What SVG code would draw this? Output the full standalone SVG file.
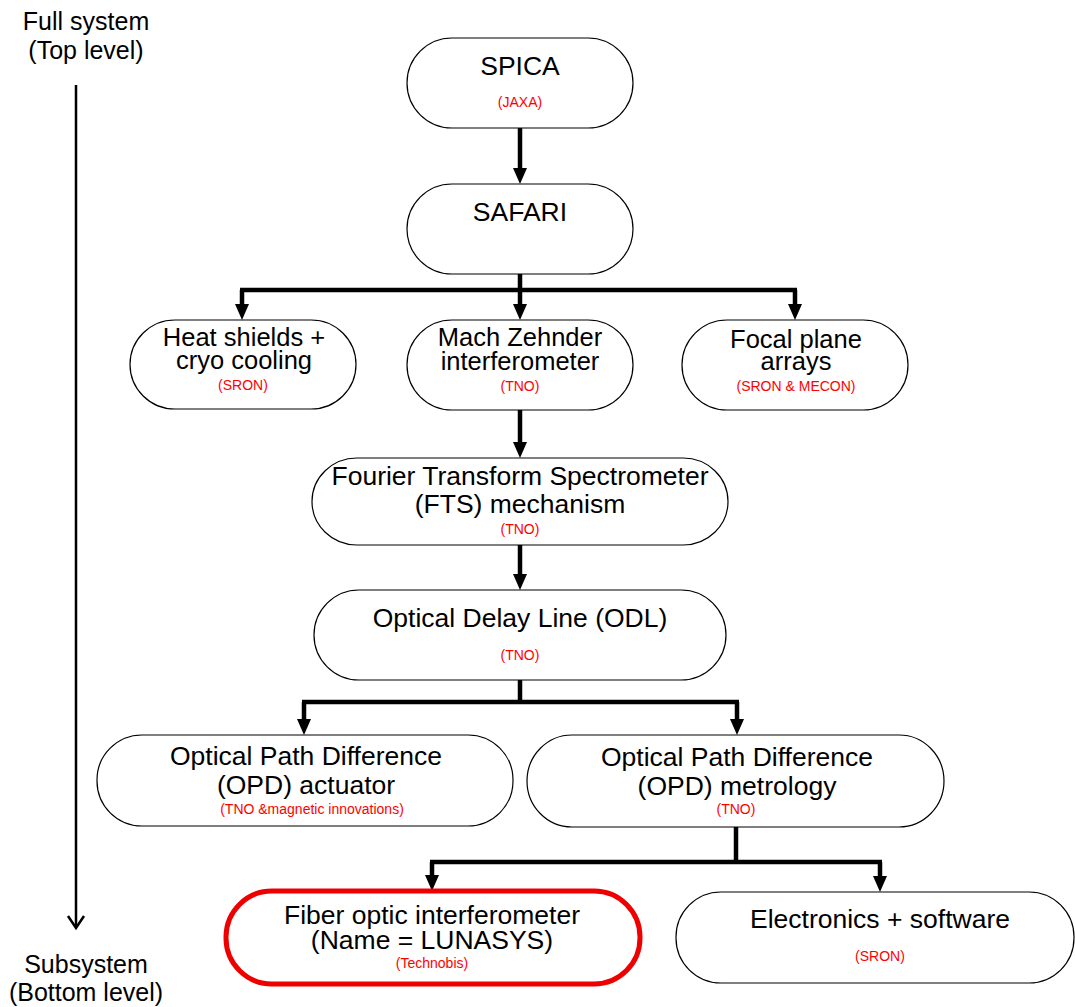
<svg xmlns="http://www.w3.org/2000/svg" width="1075" height="1007" viewBox="0 0 1075 1007">
<style>
  .node { fill: #ffffff; stroke: #000000; stroke-width: 1.2; }
  .hl { fill: #ffffff; stroke: #ee0000; stroke-width: 5; }
  .t { font-family: "Liberation Sans", Arial, sans-serif; font-size: 26.5px; fill: #000000; text-anchor: middle; }
  .t2 { font-family: "Liberation Sans", Arial, sans-serif; font-size: 25.5px; fill: #000000; text-anchor: middle; }
  .r { font-family: "Liberation Sans", Arial, sans-serif; font-size: 14px; fill: #ff0000; text-anchor: middle; }
  .side { font-family: "Liberation Sans", Arial, sans-serif; font-size: 25px; fill: #000000; text-anchor: middle; }
  .c { fill: none; stroke: #000000; stroke-width: 4.5; }
  .ca { fill: none; stroke: #000000; stroke-width: 4.5; marker-end: url(#ah); }
</style>
<defs>
  <marker id="ah" viewBox="0 0 16 14" refX="0" refY="7" markerWidth="16" markerHeight="14" markerUnits="userSpaceOnUse" orient="auto">
    <path d="M0,0 L16,7 L0,14 z" fill="#000000"/>
  </marker>
</defs>
<rect width="1075" height="1007" fill="#ffffff"/>

<g id="level-axis">
  <text class="side" x="86" y="30">Full system</text>
  <text class="side" x="86" y="59">(Top level)</text>
  <line x1="76" y1="85" x2="76" y2="927" stroke="#000" stroke-width="2.5"/>
  <polyline points="68,916 76,928 84,916" fill="none" stroke="#000" stroke-width="2.5"/>
  <text class="side" x="86" y="973">Subsystem</text>
  <text class="side" x="86" y="1001">(Bottom level)</text>
</g>

<g id="connectors">
  <path class="ca" d="M520,128 V168"/>
  <path class="c" d="M520,274 V290"/>
  <path class="c" d="M240,290 H797"/>
  <path class="ca" d="M242,290 V304"/>
  <path class="ca" d="M520,290 V304"/>
  <path class="ca" d="M795,290 V304"/>
  <path class="ca" d="M520,410 V442"/>
  <path class="ca" d="M520,545 V574"/>
  <path class="c" d="M520,680 V702"/>
  <path class="c" d="M302,702 H739"/>
  <path class="ca" d="M304,702 V719"/>
  <path class="ca" d="M737,702 V719"/>
  <path class="c" d="M736,827 V862"/>
  <path class="c" d="M430,862 H882"/>
  <path class="ca" d="M432,862 V875"/>
  <path class="ca" d="M880,862 V876"/>
</g>

<g id="spica">
  <rect class="node" x="407" y="38" width="226" height="90" rx="45" ry="45"/>
  <text class="t" x="520" y="75">SPICA</text>
  <text class="r" x="520" y="107">(JAXA)</text>
</g>

<g id="safari">
  <rect class="node" x="407" y="184" width="226" height="90" rx="45" ry="45"/>
  <text class="t" x="520" y="221">SAFARI</text>
</g>

<g id="heat-shields">
  <rect class="node" x="130" y="320" width="226" height="89" rx="45" ry="45"/>
  <text class="t2" x="244" y="346">Heat shields +</text>
  <text class="t2" x="244" y="369">cryo cooling</text>
  <text class="r" x="243" y="390">(SRON)</text>
</g>

<g id="mach-zehnder">
  <rect class="node" x="407" y="320" width="226" height="90" rx="45" ry="45"/>
  <text class="t2" x="520" y="346">Mach Zehnder</text>
  <text class="t2" x="520" y="370">interferometer</text>
  <text class="r" x="520" y="391">(TNO)</text>
</g>

<g id="focal-plane">
  <rect class="node" x="682" y="320" width="226" height="90" rx="45" ry="45"/>
  <text class="t2" x="796" y="348">Focal plane</text>
  <text class="t2" x="796" y="370">arrays</text>
  <text class="r" x="796" y="391">(SRON &amp; MECON)</text>
</g>

<g id="fts">
  <rect class="node" x="312" y="458" width="416" height="87" rx="45" ry="44"/>
  <text class="t" x="520" y="485">Fourier Transform Spectrometer</text>
  <text class="t" x="520" y="513">(FTS) mechanism</text>
  <text class="r" x="520" y="534">(TNO)</text>
</g>

<g id="odl">
  <rect class="node" x="314" y="590" width="412" height="90" rx="45" ry="45"/>
  <text class="t" x="520" y="627">Optical Delay Line (ODL)</text>
  <text class="r" x="520" y="660">(TNO)</text>
</g>

<g id="opd-actuator">
  <rect class="node" x="97" y="735" width="416" height="91" rx="45" ry="45"/>
  <text class="t" x="306" y="765">Optical Path Difference</text>
  <text class="t" x="306" y="794">(OPD) actuator</text>
  <text class="r" x="312" y="814">(TNO &amp;magnetic innovations)</text>
</g>

<g id="opd-metrology">
  <rect class="node" x="527" y="735" width="417" height="92" rx="45" ry="46"/>
  <text class="t" x="737" y="766">Optical Path Difference</text>
  <text class="t" x="737" y="795">(OPD) metrology</text>
  <text class="r" x="736" y="814">(TNO)</text>
</g>

<g id="fiber-optic">
  <rect class="hl" x="226" y="891" width="414" height="93" rx="46" ry="46"/>
  <text class="t" x="432" y="924">Fiber optic interferometer</text>
  <text class="t" x="432" y="949">(Name = LUNASYS)</text>
  <text class="r" x="432" y="968">(Technobis)</text>
</g>

<g id="electronics">
  <rect class="node" x="676" y="892" width="398" height="91" rx="45" ry="45"/>
  <text class="t" x="880" y="928">Electronics + software</text>
  <text class="r" x="880" y="961">(SRON)</text>
</g>
</svg>
